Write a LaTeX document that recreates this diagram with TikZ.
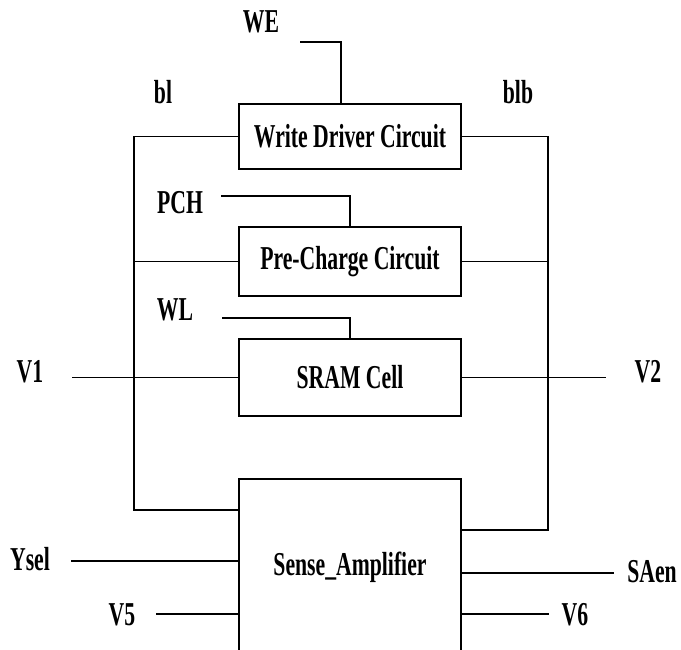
\documentclass[tikz,border=0pt]{standalone}
\usepackage{fontspec}
\setmainfont[FakeStretch=0.65]{Liberation Serif}

\begin{document}
\begin{tikzpicture}[x=0.02cm, y=-0.02cm, line width=0.8pt,
    font=\fontsize{19}{22}\selectfont\bfseries,
    box/.style={draw, minimum width=4.44cm, inner sep=0pt},
    lbl/.style={anchor=base, inner sep=0pt}]
    \clip (0,0) rectangle (681,650);
    \node[box, minimum height=1.3cm] (wdc) at (350,136.5) {Write Driver Circuit};
    \node[box, minimum height=1.38cm] (pcc) at (350,261.5) {Pre-Charge Circuit};
    \node[box, minimum height=1.54cm] (sram) at (350,377.5) {SRAM Cell};
    \node[box, minimum height=3.52cm] (sa) at (350,567) {Sense\_Amplifier};
    \foreach \n/\x/\y/\t in {
        we/261/32/WE, bl/163/103/bl, blb/518/103/blb, pch/180/213/PCH,
        wl/175/320/WL, v1/30/382/V1, v2/648/382/V2, ysel/30/570/Ysel,
        saen/652/582/SAen, v5/122/625/V5, v6/575/625/V6
    }
        \node[lbl] (\n) at (\x,\y) {\t};
    \foreach \n/\x/\y in {
        wee/300/42, pche/221/196, wle/222/318, v1e/72/377.5, v2e/606/377.5,
        ysele/71/561, saene/614/573, v5e/156/614, v6e/549/614
    }
        \coordinate (\n) at (\x,\y);
    \coordinate (blc) at (134,510);
    \coordinate (blbc) at (548,530);
    \draw (wdc.west) -| (blc) -- (sa.west |- blc);
    \draw (wdc.east) -| (blbc) -- (sa.east |- blbc);
    \draw (pcc.west) -- (pcc.west -| blc);
    \draw (pcc.east) -- (pcc.east -| blbc);
    \draw (wee) -| ([xshift=-0.18cm]wdc.north);
    \draw (pche) -| (pcc.north);
    \draw (wle) -| (sram.north);
    \draw (v1e) -- (sram.west);
    \draw (sram.east) -- (v2e);
    \draw (ysele) -- (sa.west |- ysele);
    \draw (v5e) -- (sa.west |- v5e);
    \draw (sa.east |- saene) -- (saene);
    \draw (sa.east |- v6e) -- (v6e);
\end{tikzpicture}
\end{document}
